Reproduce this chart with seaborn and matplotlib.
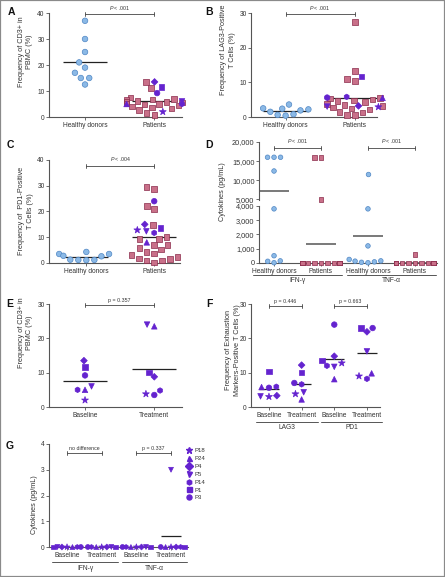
import numpy as np
import pandas as pd
import matplotlib
matplotlib.use("Agg")
import matplotlib.pyplot as plt
import seaborn as sns
from matplotlib.markers import MarkerStyle
from matplotlib.lines import Line2D
from matplotlib.patches import Rectangle
from matplotlib.transforms import blended_transform_factory, Affine2D
from matplotlib.ticker import FuncFormatter

# ------------------------------------------------------------------ data
patient_ids = ["P18", "P24", "P4", "P5", "P14", "P1", "P3"]
patient_markers = ["*", "^", "D", "v", "h", "s", "o"]

AB_categories = ["Healthy donors", "Patients"]

A_healthy = [37, 30, 25, 21, 19, 17, 15, 15, 12.5]
A_patients = [13.4, 11.1, 7.5, 7.0, 6.8, 6.5, 6.2, 6.0, 5.8, 5.5, 5.2, 5.0, 4.8,
              4.5, 4.0, 3.6, 3.2, 2.6, 1.5, 0.8]
A_treated = [2.0, 5.0, 13.5, 6.0, 5.0, 11.6, 9.2]

B_healthy = [3.6, 2.5, 2.4, 2.2, 1.9, 1.5, 0.8, 0.6, 0.4]
B_patients = [27.4, 13.3, 10.9, 10.4, 5.5, 5.4, 5.0, 4.8, 4.6, 4.3, 3.8, 3.5, 3.2,
              2.8, 2.5, 2.2, 1.5, 1.3, 0.6, 0.5]
B_treated = [2.9, 5.5, 3.2, 3.0, 5.8, 11.7, 5.6]

C_healthy = [4.3, 3.5, 3.5, 2.8, 2.6, 1.3, 1.2, 1.2, 1.1]
C_patients = [29.5, 28.7, 22.2, 21.0, 14.8, 10.2, 9.3, 9.3, 7.0, 6.9, 5.9, 5.2, 4.3,
              3.7, 3.0, 2.4, 1.8, 1.5, 1.0, 0.9, 0.2]
C_treated = [12.8, 8.0, 15.0, 12.3, 11.7, 13.6, 24.0]

D_categories = ["Healthy donors", "Patients", "Healthy donors", "Patients"]
D_cytokines = ["IFN-γ", "TNF-α"]
D_ifn_healthy = [16000, 16000, 16000, 12400, 3800, 510, 150, 120, 20]
D_ifn_patients = [16000, 16000, 4900, 0, 0, 0, 0, 0, 0, 0, 0, 0, 0, 0, 0, 0, 0,
                  0, 0, 0, 0, 0, 0, 0, 0, 0, 0]
D_tnf_healthy = [11500, 3800, 1200, 250, 150, 130, 80, 50, 20]
D_tnf_patients = [610, 0, 0, 0, 0, 0, 0, 0, 0, 0, 0, 0, 0, 0, 0, 0, 0, 0, 0, 0,
                  0, 0, 0, 0, 0, 0, 0]

EF_categories = ["Baseline", "Treatment"]
E_baseline = [2.0, 5.0, 13.5, 6.0, 5.0, 11.6, 9.2]
E_treatment = [3.8, 23.5, 8.8, 24.0, 4.8, 10.0, 3.5]

F_markers = ["LAG3", "PD1"]
F_lag3_baseline = [3.0, 5.8, 3.3, 3.1, 5.9, 10.3, 5.6]
F_lag3_treatment = [3.8, 2.2, 12.2, 4.3, 6.6, 10.1, 7.0]
F_pd1_baseline = [12.8, 8.1, 14.8, 11.7, 12.0, 13.6, 24.0]
F_pd1_treatment = [9.0, 9.8, 21.9, 16.2, 8.2, 23.0, 23.0]

G_cytokines = ["IFN-γ", "TNF-α"]
G_ifn_baseline = [0, 0, 0, 0, 0, 0, 0]
G_ifn_treatment = [0, 0, 0, 0, 0, 0, 0]
G_tnf_baseline = [0, 0, 0, 0, 0, 0, 0]
G_tnf_treatment = [0, 0, 0, 3.0, 0, 0, 0]

# ------------------------------------------------------------------ style
sns.set_theme(style="ticks")
plt.rcParams["font.family"] = ["Liberation Sans", "DejaVu Sans"]
plt.rcParams["mathtext.fontset"] = "custom"
plt.rcParams["mathtext.it"] = "Liberation Sans:italic"
plt.rcParams["mathtext.rm"] = "Liberation Sans"

BLUE_F, BLUE_E = "#8bb9e6", "#4f86c4"
PINK_F, PINK_E = "#c97089", "#8a2b4b"
PURP = "#6423cf"
AX_C = "#555555"
TXT_C = "#333333"

STYLE = {"hd": ("o", BLUE_F, BLUE_E, 1.0), "pat": ("s", PINK_F, PINK_E, 1.0)}
for pid, m in zip(patient_ids, patient_markers):
    STYLE[pid] = (m, PURP, PURP, 1.3 if m == "*" else (0.85 if m == "D" else 1.0))

W, H = 445, 577
fig = plt.figure(figsize=(W / 100, H / 100), dpi=100)


def axes_px(l, r, t, b):
    return fig.add_axes([l / W, 1 - b / H, (r - l) / W, (b - t) / H])


def mpath(m, shrink):
    ms = MarkerStyle(m)
    return ms.get_path().transformed(ms.get_transform() + Affine2D().scale(1 / shrink))


def frame(groups):
    rows = []
    for g, vals, kinds in groups:
        for v, k in zip(vals, kinds):
            rows.append((g, v, k))
    return pd.DataFrame(rows, columns=["group", "value", "kind"])


def swarm(ax, df, order, size=3.4, spread=1.0, lw=0.5):
    """Beeswarm layout computed with size*spread, markers drawn at size."""
    before = len(ax.collections)
    sns.swarmplot(data=df, x="group", y="value", order=order, ax=ax, size=size,
                  color=PURP, linewidth=lw, warn_thresh=1, clip_on=False, zorder=3)
    for coll in ax.collections[before:]:
        off = np.asarray(coll.get_offsets())
        if len(off) == 0:
            continue
        g = order[int(round(off[0][0]))]
        kinds = df.loc[df["group"] == g, "kind"].tolist()
        coll.set_paths([mpath(STYLE[k][0], spread) for k in kinds])
        coll.set_facecolors([STYLE[k][1] for k in kinds])
        coll.set_edgecolors([STYLE[k][2] for k in kinds])
        coll.set_sizes([(size * spread * STYLE[k][3]) ** 2 for k in kinds])
        coll.set_linewidths(lw)


def mean_lines(ax, df, order, hw=0.32, color="#222222", lw=0.9, lo=None, hi=None):
    m = df.groupby("group")["value"].mean()
    for i, g in enumerate(order):
        if g not in m.index:
            continue
        v = m[g]
        if lo is not None and v < lo:
            continue
        if hi is not None and v > hi:
            continue
        ax.hlines(v, i - hw, i + hw, color=color, lw=lw, zorder=2)


def style_ax(ax, ylim, yticks, xlim, labels, ysize=4.8, bottom=True):
    ax.set_ylim(*ylim)
    ax.set_yticks(yticks)
    ax.set_xlim(*xlim)
    ax.set_xlabel("")
    ax.set_ylabel("")
    for s in ["top", "right"]:
        ax.spines[s].set_visible(False)
    for s in ["left", "bottom"]:
        ax.spines[s].set_color(AX_C)
        ax.spines[s].set_linewidth(0.8)
    ax.tick_params(axis="y", length=2.2, width=0.6, color=AX_C, labelsize=ysize,
                   labelcolor=TXT_C, pad=1)
    if bottom:
        ax.set_xticks(range(len(labels)))
        ax.set_xticklabels(labels)
        ax.tick_params(axis="x", length=1.8, width=0.6, color=AX_C, labelsize=4.8,
                       labelcolor=TXT_C, pad=1.8)
    else:
        ax.spines["bottom"].set_visible(False)
        ax.set_xticks([])


def bracket(ax, x0, x1, y, text, fs=3.8):
    y0, y1 = ax.get_ylim()
    hpx = ax.get_position().height * H
    cap = 2.0 * (y1 - y0) / hpx
    toff = 2.5 * (y1 - y0) / hpx
    kw = dict(color="#444444", lw=0.6, clip_on=False, zorder=5)
    ax.plot([x0, x1], [y, y], **kw)
    ax.plot([x0, x0], [y - cap, y + cap], **kw)
    ax.plot([x1, x1], [y - cap, y + cap], **kw)
    ax.text((x0 + x1) / 2, y + toff, text, ha="center", va="bottom", fontsize=fs,
            color=TXT_C, clip_on=False)


def group_label(ax, x0, x1, text, y_line_px, y_text_px, fs=4.8):
    tr = blended_transform_factory(ax.transData, fig.transFigure)
    ax.plot([x0, x1], [1 - y_line_px / H] * 2, transform=tr, color=AX_C, lw=0.7,
            clip_on=False)
    ax.text((x0 + x1) / 2, 1 - y_text_px / H, text, transform=tr, ha="center",
            va="center", fontsize=fs, color=TXT_C)


def ylabel(x_px, y_px, text, fs=5.2):
    fig.text(x_px / W, 1 - y_px / H, text, rotation=90, ha="center", va="center",
             fontsize=fs, color=TXT_C, multialignment="center", linespacing=1.25)


def letter(x_px, y_px, t):
    fig.text(x_px / W, 1 - y_px / H, t, fontsize=7.5, fontweight="bold",
             ha="center", va="center", color="#111111")


# ------------------------------------------------------------------ A/B/C
def two_group_panel(ax, healthy, patients, treated, ylim, yticks, xlim, by, ptxt):
    df = frame([(AB_categories[0], healthy, ["hd"] * len(healthy)),
                (AB_categories[1], patients + treated,
                 ["pat"] * len(patients) + patient_ids)])
    swarm(ax, df, AB_categories, size=4.0, spread=1.25)
    mean_lines(ax, df, AB_categories)
    style_ax(ax, ylim, yticks, xlim, AB_categories)
    bracket(ax, 0, 1, by, ptxt)


axA = axes_px(49, 182, 13, 117)
two_group_panel(axA, A_healthy, A_patients, A_treated, (0, 40), [0, 10, 20, 30, 40],
                (-0.52, 1.4), 39.6, r"$P$ < .001")
axB = axes_px(251, 377, 13, 117)
two_group_panel(axB, B_healthy, B_patients, B_treated, (0, 30), [0, 10, 20, 30],
                (-0.5, 1.32), 29.7, r"$P$ < .001")
axC = axes_px(49, 180, 160, 263)
two_group_panel(axC, C_healthy, C_patients, C_treated, (0, 40), [0, 10, 20, 30, 40],
                (-0.55, 1.38), 37.7, r"$P$ < .004")

# ------------------------------------------------------------------ D
D_keys = ["hd_ifn", "pat_ifn", "hd_tnf", "pat_tnf"]
dfD = frame([(D_keys[0], D_ifn_healthy, ["hd"] * len(D_ifn_healthy)),
             (D_keys[1], D_ifn_patients, ["pat"] * len(D_ifn_patients)),
             (D_keys[2], D_tnf_healthy, ["hd"] * len(D_tnf_healthy)),
             (D_keys[3], D_tnf_patients, ["pat"] * len(D_tnf_patients))])
axDu = axes_px(259, 437, 142, 200)
axDl = axes_px(259, 437, 206, 263)
swarm(axDu, dfD[dfD["value"] > 4500].reset_index(drop=True), D_keys, size=3.3, spread=1.2)
swarm(axDl, dfD[dfD["value"] <= 4500].reset_index(drop=True), D_keys, size=3.3, spread=1.2)
mean_lines(axDu, dfD, D_keys, color="#555555", lw=1.1, lo=4800)
mean_lines(axDl, dfD, D_keys, color="#555555", lw=1.1, hi=4000)
fmt = FuncFormatter(lambda v, p: f"{int(v):,}")
style_ax(axDu, (4800, 20000), [5000, 10000, 15000, 20000], (-0.32, 3.47), D_categories,
         ysize=5.3, bottom=False)
style_ax(axDl, (0, 4000), [0, 1000, 2000, 3000, 4000], (-0.32, 3.47), D_categories,
         ysize=5.3)
axDu.yaxis.set_major_formatter(fmt)
axDl.yaxis.set_major_formatter(fmt)
bracket(axDu, 0, 1, 18500, r"$P$ < .001")
bracket(axDu, 2, 3, 18500, r"$P$ < .001")
group_label(axDl, -0.45, 1.45, D_cytokines[0], 275, 281)
group_label(axDl, 1.55, 3.45, D_cytokines[1], 275, 281)

# ------------------------------------------------------------------ E
axE = axes_px(49, 182, 304, 407)
dfE = frame([(EF_categories[0], E_baseline, patient_ids),
             (EF_categories[1], E_treatment, patient_ids)])
swarm(axE, dfE, EF_categories, size=4.0, spread=1.15)
mean_lines(axE, dfE, EF_categories)
style_ax(axE, (0, 30), [0, 10, 20, 30], (-0.52, 1.4), EF_categories)
bracket(axE, 0, 1, 29.7, "p = 0.357")

# ------------------------------------------------------------------ F
F_keys = ["lag3_b", "lag3_t", "pd1_b", "pd1_t"]
axF = axes_px(251, 380, 304, 407)
dfF = frame([(F_keys[0], F_lag3_baseline, patient_ids),
             (F_keys[1], F_lag3_treatment, patient_ids),
             (F_keys[2], F_pd1_baseline, patient_ids),
             (F_keys[3], F_pd1_treatment, patient_ids)])
swarm(axF, dfF, F_keys, size=4.0, spread=1.15)
mean_lines(axF, dfF, F_keys, hw=0.3)
style_ax(axF, (0, 30), [0, 10, 20, 30], (-0.55, 3.4), EF_categories * 2)
bracket(axF, 0, 1, 29.4, "p = 0.446")
bracket(axF, 2, 3, 29.4, "p = 0.663")
group_label(axF, -0.4, 1.5, F_markers[0], 422, 427.5)
group_label(axF, 1.6, 3.45, F_markers[1], 422, 427.5)

# ------------------------------------------------------------------ G
G_keys = ["ifn_b", "ifn_t", "tnf_b", "tnf_t"]
axG = axes_px(49, 188, 444, 547)
dfG = frame([(G_keys[0], G_ifn_baseline, patient_ids),
             (G_keys[1], G_ifn_treatment, patient_ids),
             (G_keys[2], G_tnf_baseline, patient_ids),
             (G_keys[3], G_tnf_treatment, patient_ids)])
swarm(axG, dfG, G_keys, size=3.5, spread=0.8)
mean_lines(axG, dfG, G_keys, hw=0.3)
style_ax(axG, (0, 4), [0, 1, 2, 3, 4], (-0.52, 3.49), EF_categories * 2)
bracket(axG, 0, 1, 3.65, "no difference")
bracket(axG, 2, 3, 3.65, "p = 0.337")
group_label(axG, -0.42, 1.48, G_cytokines[0], 562, 568)
group_label(axG, 1.58, 3.46, G_cytokines[1], 562, 568)

handles = [Line2D([], [], marker=m, ls="", color=PURP, markersize=3.6 * (1.3 if m == "*" else 1.0))
           for m in patient_markers]
fig.legend(handles, patient_ids, loc="upper left",
           bbox_to_anchor=(187 / W, 1 - 448 / H), frameon=False, fontsize=4.3,
           handlelength=0.8, handletextpad=0.4, labelspacing=0.45, borderaxespad=0,
           borderpad=0, labelcolor=TXT_C)

# ------------------------------------------------------------------ labels
ylabel(25.5, 52, "Frequency of CD3+ in\nPBMC (%)")
ylabel(228, 50, "Frequency of LAG3-Positive\nT Cells (%)")
ylabel(26, 211, "Frequency of  PD1-Positive\nT Cells (%)")
ylabel(222, 192, "Cytokines (pg/mL)")
ylabel(25.5, 333, "Frequency of CD3+ in\nPBMC (%)")
ylabel(233, 350, "Frequency of Exhaustion\nMarkers-Positive T Cells (%)")
ylabel(34, 505, "Cytokines (pg/mL)")

for x, y, t in [(11, 12, "A"), (209, 12, "B"), (10, 145, "C"), (209, 145, "D"),
                (10, 304, "E"), (209, 304, "F"), (10, 446, "G")]:
    letter(x, y, t)

fig.patches.append(Rectangle((0, 0), 1, 1, transform=fig.transFigure, fill=False,
                             ec="#8a8a8a", lw=1.6))

fig.savefig("out.png", dpi=100)
